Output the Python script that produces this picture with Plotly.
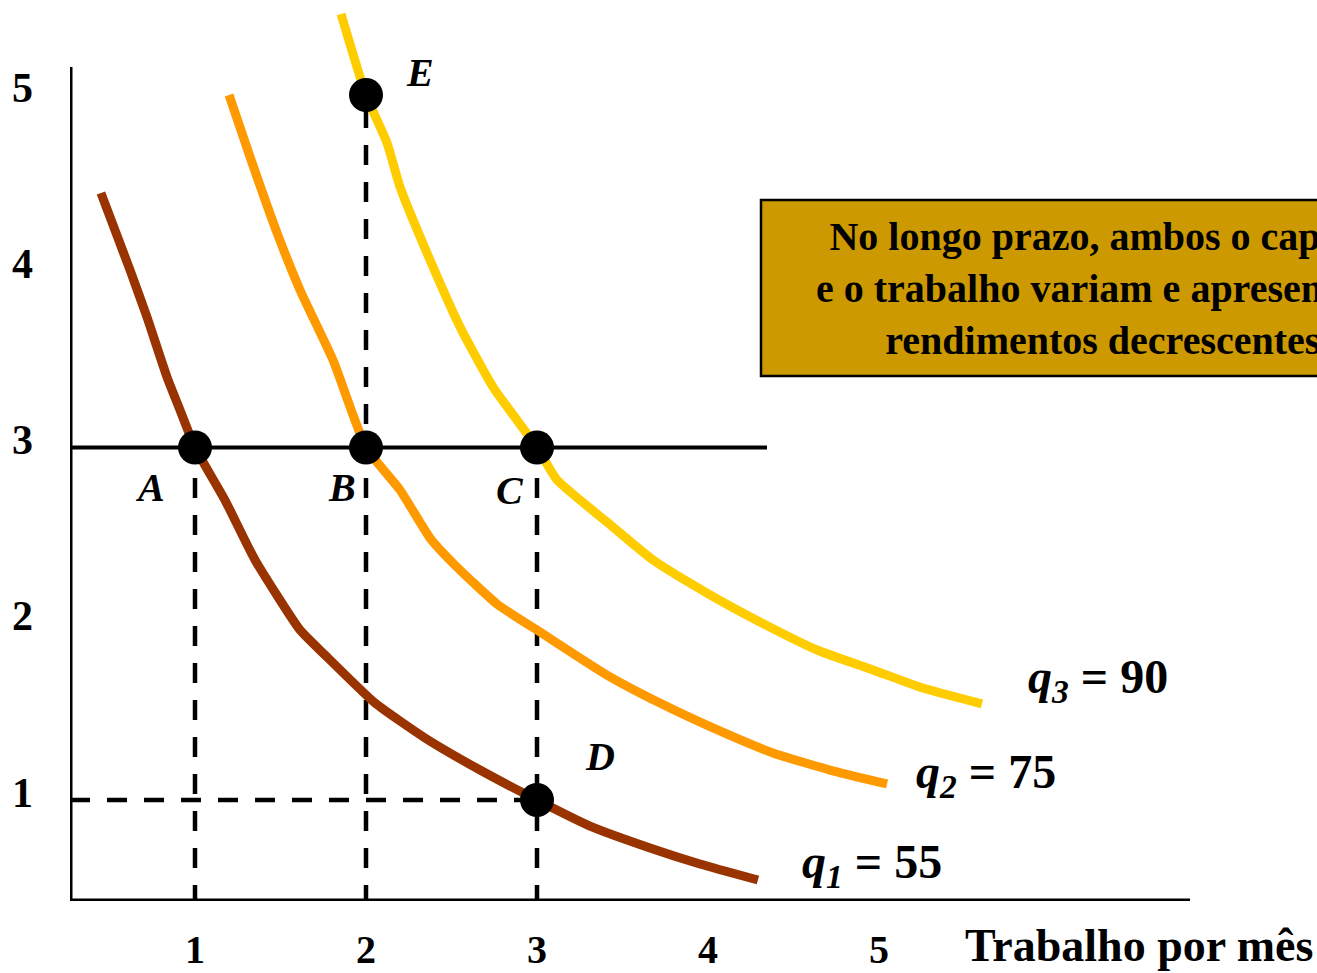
import plotly.graph_objects as go

# ---------------- data ----------------
# isoquant q1 = 55
q1_x = [0.450, 0.620, 0.719, 0.836, 0.912, 1.000, 1.175, 1.351, 1.614, 1.760, 2.053,
        2.345, 2.667, 3.000, 3.310, 3.661, 3.953, 4.292]
q1_y = [4.444, 4.007, 3.740, 3.400, 3.213, 3.000, 2.702, 2.362, 1.965, 1.823, 1.550,
        1.352, 1.170, 1.000, 0.852, 0.728, 0.637, 0.546]
# isoquant q2 = 75
q2_x = [1.199, 1.322, 1.480, 1.614, 1.807, 2.000, 2.199, 2.374, 2.520, 2.766, 3.018,
        3.409, 3.719, 4.029, 4.380, 4.713, 5.047]
q2_y = [5.000, 4.648, 4.217, 3.894, 3.496, 3.000, 2.759, 2.487, 2.333, 2.112, 1.953,
        1.709, 1.550, 1.409, 1.267, 1.170, 1.091]
# isoquant q3 = 90
q3_x = [1.854, 2.000, 2.123, 2.199, 2.392, 2.550, 2.743, 3.000, 3.117, 3.409, 3.678,
        3.994, 4.304, 4.637, 4.965, 5.257, 5.602]
q3_y = [5.460, 5.000, 4.728, 4.478, 4.024, 3.684, 3.343, 3.000, 2.816, 2.577, 2.362,
        2.174, 2.010, 1.851, 1.738, 1.635, 1.545]

curve_names = ["q1", "q2", "q3"]
curve_labels = ["<i>q</i><sub><i>1</i></sub> = 55",
                "<i>q</i><sub><i>2</i></sub> = 75",
                "<i>q</i><sub><i>3</i></sub> = 90"]
curve_colors = ["#993300", "#FF9900", "#FFCC00"]

# combination points
point_names = ["A", "B", "C", "D", "E"]
point_x = [1, 2, 3, 3, 2]
point_y = [3, 3, 3, 1, 5]

# ticks
x_ticks = [1, 2, 3, 4, 5]
x_ticktext = ["1", "2", "3", "4", "5"]
y_ticks = [1, 2, 3, 4, 5]
y_ticktext = ["1", "2", "3", "4", "5"]

x_title = "Trabalho por mês"
box_text = ["No longo prazo, ambos o capital",
            "e o trabalho variam e apresentam",
            "rendimentos decrescentes"]

# ---------------- layout geometry ----------------
W, H = 1317, 973
ML, MB = 70, 72
PX_X = 171.0      # pixels per unit of labour
PX_Y = 176.25     # pixels per unit of capital
X0 = 1 - (195 - ML) / PX_X
Y0 = 1 - (H - MB - 800) / PX_Y
X1 = X0 + (W - ML) / PX_X
Y1 = Y0 + (H - MB) / PX_Y

def dx(px):
    return X0 + (px - ML) / PX_X

def dy(py):
    return Y0 + (H - MB - py) / PX_Y

def pxp(px):
    return (px - ML) / (W - ML)

def pyp(py):
    return (H - MB - py) / (H - MB)

SERIF = "Liberation Serif, Times New Roman, serif"

fig = go.Figure()

# isoquants
for xs, ys, nm, col in zip([q1_x, q2_x, q3_x], [q1_y, q2_y, q3_y], curve_names, curve_colors):
    fig.add_trace(go.Scatter(x=xs, y=ys, mode="lines", name=nm,
                             line=dict(color=col, width=9, shape="spline", smoothing=0.5),
                             hoverinfo="skip", cliponaxis=False))

# guide lines
axis_bottom = dy(905)
dash = "20px,17px"
fig.add_shape(type="line", x0=X0, x1=dx(767), y0=point_y[0], y1=point_y[0],
              line=dict(color="black", width=4), layer="below")
for i in [0, 1, 2]:
    top = point_y[i]
    if point_names[i] == "B":
        top = point_y[4]
    fig.add_shape(type="line", x0=point_x[i], x1=point_x[i], y0=axis_bottom, y1=top,
                  line=dict(color="black", width=4.5, dash=dash), layer="below")
fig.add_shape(type="line", x0=X0, x1=point_x[3], y0=point_y[3], y1=point_y[3],
              line=dict(color="black", width=4.5, dash=dash), layer="below")

# axes lines
fig.add_shape(type="line", x0=X0, x1=X0, y0=axis_bottom, y1=dy(67),
              line=dict(color="black", width=5))
fig.add_shape(type="line", x0=X0, x1=dx(1190), y0=Y0, y1=Y0,
              line=dict(color="black", width=5))

# points
fig.add_trace(go.Scatter(x=point_x, y=point_y, mode="markers", name="pontos",
                         marker=dict(color="black", size=34),
                         hoverinfo="skip", cliponaxis=False))

# point labels
label_pos = {"A": (150, 487), "B": (342, 487), "C": (510, 490), "D": (600, 757), "E": (420, 72)}
for nm in point_names:
    px, py = label_pos[nm]
    fig.add_annotation(xref="paper", yref="paper", x=pxp(px), y=pyp(py),
                       xanchor="center", yanchor="middle",
                       text="<b><i>" + nm + "</i></b>", showarrow=False,
                       font=dict(family=SERIF, size=40, color="black"))

# curve labels
curve_label_pos = [(800, 865), (914, 775), (1026, 680)]
for lab, (px, py) in zip(curve_labels, curve_label_pos):
    fig.add_annotation(xref="paper", yref="paper", x=pxp(px), y=pyp(py),
                       xanchor="left", yanchor="middle",
                       text="<b>" + lab + "</b>", showarrow=False,
                       font=dict(family=SERIF, size=48, color="black"))

# x axis title
fig.add_annotation(xref="paper", yref="paper", x=pxp(963), y=pyp(946),
                   xanchor="left", yanchor="middle",
                   text="<b>" + x_title + "</b>", showarrow=False,
                   font=dict(family=SERIF, size=46, color="black"))

# text box
fig.add_shape(type="rect", x0=dx(761), x1=dx(1445), y0=dy(376), y1=dy(200),
              fillcolor="#CC9900", line=dict(color="black", width=2.5), layer="above")
fig.add_annotation(xref="paper", yref="paper", x=pxp(1103), y=pyp(288),
                   xanchor="center", yanchor="middle",
                   text="<b>" + "<br>".join(box_text) + "</b>",
                   showarrow=False, align="center",
                   font=dict(family=SERIF, size=40, color="black"))

fig.update_xaxes(range=[X0, X1], tickvals=x_ticks, ticktext=x_ticktext,
                 showgrid=False, zeroline=False, showline=False, ticks="",
                 ticklabelstandoff=21,
                 tickfont=dict(family=SERIF, size=40, color="black", weight="bold"))
fig.update_yaxes(range=[Y0, Y1], tickvals=y_ticks, ticktext=y_ticktext,
                 showgrid=False, zeroline=False, showline=False, ticks="",
                 ticklabelstandoff=36, ticklabelshift=-8,
                 tickfont=dict(family=SERIF, size=42, color="black", weight="bold"))

fig.update_layout(width=W, height=H, margin=dict(l=ML, r=0, t=0, b=MB),
                  plot_bgcolor="white", paper_bgcolor="white", showlegend=False)

fig.write_html("out.html", config={"displayModeBar": False},
               post_script="document.body.style.margin='0';document.body.style.overflow='hidden';")
